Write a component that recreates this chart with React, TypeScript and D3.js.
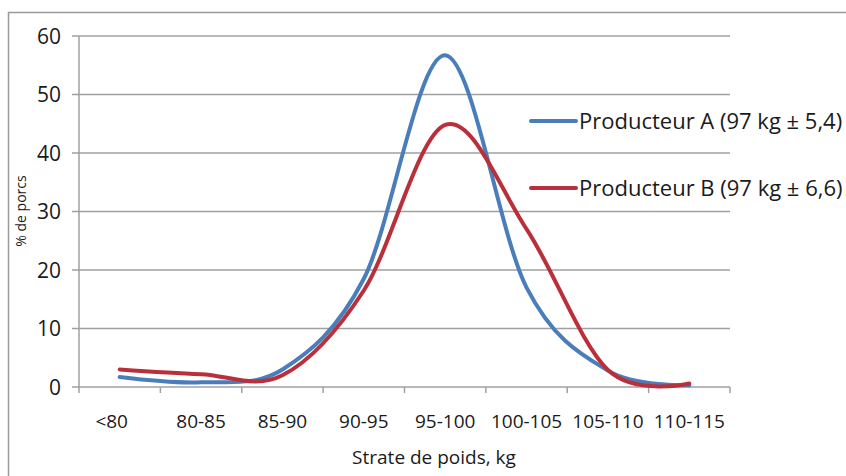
import React from "react";
import * as d3 from "d3";

const categories = ["<80", "80-85", "85-90", "90-95", "95-100", "100-105", "105-110", "110-115"];
const seriesA = [1.7, 0.8, 3.0, 18.5, 56.7, 17.0, 2.8, 0.3];
const seriesB = [3.0, 2.2, 2.0, 16.5, 44.8, 27.0, 2.9, 0.6];
const yTicks = [0, 10, 20, 30, 40, 50, 60];
const seriesNames = ["Producteur A (97 kg ± 5,4)", "Producteur B (97 kg ± 6,6)"];
const seriesColors = ["#4a7ebb", "#b9303a"];

const W = 846;
const H = 476;
const font = "'Open Sans', sans-serif";

export default function App() {
  const left = 79, right = 730, top = 36, bottom = 387;
  const x = d3.scaleBand<string>().domain(categories).range([left, right]).padding(0);
  const y = d3.scaleLinear().domain([0, 60]).range([bottom, top]);
  const line = d3
    .line<number>()
    .x((_, i) => (x(categories[i]) as number) + x.bandwidth() / 2)
    .y((d) => y(d))
    .curve(d3.curveCardinal.tension(0));
  const series = [seriesA, seriesB];
  const tickXs = categories.map((c) => x(c) as number).concat([right]);
  const legendY = [121, 188];

  return (
    <svg
      width={W}
      height={H}
      style={{ position: "absolute", left: 0, top: 0, background: "#fff" }}
    >
      <rect x={8.5} y={12.5} width={W + 20} height={H + 20} fill="#fff" stroke="#9a9a9a" strokeWidth={1.5} />
      {yTicks.map((t) => (
        <g key={t}>
          <line x1={left - 7} x2={right} y1={y(t)} y2={y(t)} stroke="#a0a0a0" strokeWidth={1.5} />
          <text x={61} y={y(t) + 7.5} textAnchor="end" fontFamily={font} fontSize={21} fill="#1a1a1a">
            {t}
          </text>
        </g>
      ))}
      <line x1={left} x2={left} y1={top} y2={bottom} stroke="#a0a0a0" strokeWidth={1.5} />
      {tickXs.map((tx, i) => (
        <line key={i} x1={tx} x2={tx} y1={bottom} y2={bottom + 6} stroke="#a0a0a0" strokeWidth={1.5} />
      ))}
      {categories.map((c, i) => (
        <text
          key={c}
          x={(x(c) as number) + x.bandwidth() / 2}
          dx={i === 0 ? -8 : 0}
          y={428}
          textAnchor="middle"
          fontFamily={font}
          fontSize={19}
          fill="#1a1a1a"
        >
          {c}
        </text>
      ))}
      <text x={434} y={464} textAnchor="middle" fontFamily={font} fontSize={19} fill="#1a1a1a">
        Strate de poids, kg
      </text>
      <text
        transform={`translate(26,211) rotate(-90)`}
        textAnchor="middle"
        fontFamily={font}
        fontSize={14}
        fill="#1a1a1a"
      >
        % de porcs
      </text>
      {series.map((s, i) => (
        <path
          key={i}
          d={line(s) || ""}
          fill="none"
          stroke={seriesColors[i]}
          strokeWidth={4}
          strokeLinecap="round"
        />
      ))}
      {seriesNames.map((n, i) => (
        <g key={n}>
          <line x1={531} x2={576} y1={legendY[i]} y2={legendY[i]} stroke={seriesColors[i]} strokeWidth={4} strokeLinecap="round" />
          <text x={579} y={legendY[i] + 7.5} fontFamily={font} fontSize={22} fill="#1a1a1a">
            {n}
          </text>
        </g>
      ))}
    </svg>
  );
}
